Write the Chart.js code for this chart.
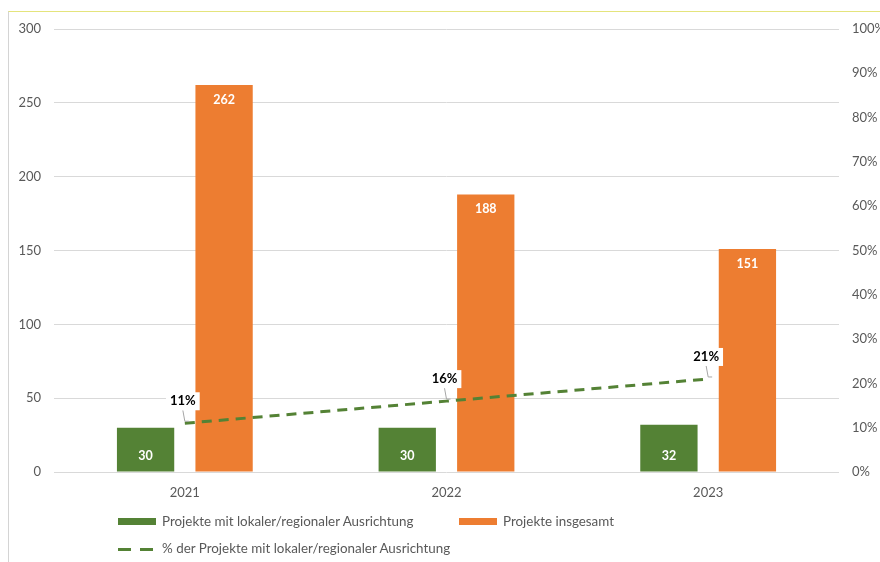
<!DOCTYPE html>
<html>
<head>
<meta charset="utf-8">
<script src="https://cdn.jsdelivr.net/npm/chart.js@4.4.1/dist/chart.umd.min.js"></script>
<style>
  body { margin: 0; background: #fff; font-family: Lato, "Open Sans", sans-serif; }
  #wrap { position: relative; width: 880px; height: 562px; overflow: hidden; }
  #frame { position: absolute; left: 8px; top: 11px; width: 900px; height: 600px;
           border-left: 1px solid #d4d4d4; border-top: 1px solid #e4e47c; }
  canvas { position: absolute; left: 0; top: 0; }
  .leg { position: absolute; font-size: 13.4px; color: #595959; white-space: nowrap; }
  .sw { position: absolute; height: 7px; width: 38px; }
  .dash { position: absolute; height: 3px; background: #548235; }
</style>
</head>
<body>
<div id="wrap">
  <div id="frame"></div>
  <canvas id="myChart" width="880" height="562"></canvas>
  <div class="sw" style="left:118px;top:518px;background:#548235"></div>
  <div class="leg" style="left:162px;top:513px">Projekte mit lokaler/regionaler Ausrichtung</div>
  <div class="sw" style="left:459px;top:518px;background:#ED7D31"></div>
  <div class="leg" style="left:503px;top:513px">Projekte insgesamt</div>
  <div class="dash" style="left:118px;top:548px;width:13px"></div>
  <div class="dash" style="left:140px;top:548px;width:13px"></div>
  <div class="leg" style="left:162px;top:540px">% der Projekte mit lokaler/regionaler Ausrichtung</div>
</div>
<script>
var jahre = ["2021", "2022", "2023"];
var projekteLokal = [30, 30, 32];
var projekteGesamt = [262, 188, 151];
var anteilLokal = [11, 16, 21];

var gruen = "#548235";
var orange = "#ED7D31";
var grau = "#595959";

// Beschriftungen wie in Excel: Balkenwerte und Prozent-Kästchen
var labelPlugin = {
  id: "labels",
  afterDatasetsDraw: function (chart) {
    var ctx = chart.ctx;
    ctx.save();
    ctx.font = "bold 12.5px Lato, 'Open Sans', sans-serif";
    ctx.textAlign = "center";
    ctx.textBaseline = "middle";
    ctx.fillStyle = "#fff";
    chart.getDatasetMeta(0).data.forEach(function (bar, i) {
      ctx.fillText(projekteLokal[i], bar.x, bar.base - 16);
    });
    chart.getDatasetMeta(1).data.forEach(function (bar, i) {
      ctx.fillText(projekteGesamt[i], bar.x, bar.y + 15);
    });
    ctx.font = "bold 13px Lato, 'Open Sans', sans-serif";
    chart.getDatasetMeta(2).data.forEach(function (pt, i) {
      var txt = anteilLokal[i] + "%";
      var tx = pt.x - 2, ty = pt.y - 22;
      var w = ctx.measureText(txt).width + 8;
      // Führungslinie
      ctx.strokeStyle = "#a6a6a6";
      ctx.lineWidth = 1;
      ctx.beginPath();
      ctx.moveTo(tx, ty + 9);
      ctx.lineTo(pt.x, pt.y - 2);
      ctx.lineTo(pt.x + 4, pt.y - 2);
      ctx.stroke();
      ctx.fillStyle = "#fff";
      ctx.fillRect(tx - w / 2, ty - 9, w, 18);
      ctx.fillStyle = "#000";
      ctx.fillText(txt, tx, ty);
    });
    ctx.restore();
  }
};

const ctx = document.getElementById("myChart");

var myChart = new Chart(ctx, {
  type: "bar",
  data: {
    labels: jahre,
    datasets: [
      {
        label: "Projekte mit lokaler/regionaler Ausrichtung",
        data: projekteLokal,
        backgroundColor: gruen,
        yAxisID: "y",
        categoryPercentage: 0.6,
        barPercentage: 0.73,
        order: 2
      },
      {
        label: "Projekte insgesamt",
        data: projekteGesamt,
        backgroundColor: orange,
        yAxisID: "y",
        categoryPercentage: 0.6,
        barPercentage: 0.73,
        order: 2
      },
      {
        type: "line",
        label: "% der Projekte mit lokaler/regionaler Ausrichtung",
        data: anteilLokal,
        yAxisID: "prozent",
        borderColor: gruen,
        borderWidth: 3,
        borderDash: [10, 7],
        pointRadius: 0,
        fill: false,
        order: 1
      }
    ]
  },
  options: {
    responsive: false,
    animation: false,
    layout: { padding: { top: 29, left: 0, right: 0, bottom: 0 } },
    plugins: {
      legend: { display: false },
      tooltip: { enabled: false }
    },
    scales: {
      x: {
        grid: { display: false, drawTicks: false },
        border: { display: false },
        ticks: { color: grau, font: { family: "Lato", size: 13 }, padding: 13 },
        afterFit: function (s) { s.height = 90; }
      },
      y: {
        position: "left",
        min: 0,
        max: 300,
        ticks: { stepSize: 50, color: grau, font: { family: "Lato", size: 13 }, padding: 13 },
        grid: { color: "#d9d9d9", drawTicks: false },
        border: { display: false },
        afterFit: function (s) { s.width = 54; }
      },
      prozent: {
        position: "right",
        min: 0,
        max: 100,
        ticks: {
          stepSize: 10,
          color: grau,
          font: { family: "Lato", size: 13 },
          padding: 13,
          callback: function (v) { return v + "%"; }
        },
        grid: { display: false, drawTicks: false },
        border: { display: false },
        afterFit: function (s) { s.width = 41; }
      }
    }
  },
  plugins: [labelPlugin]
});
</script>
</body>
</html>
